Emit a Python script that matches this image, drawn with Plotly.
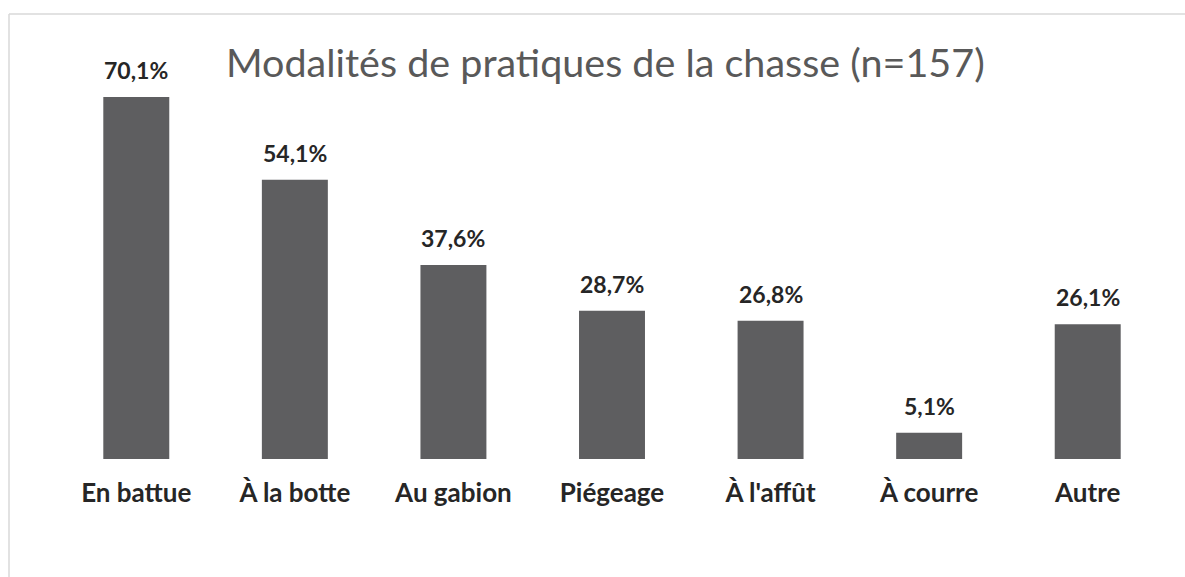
import plotly.graph_objects as go

categories = ["En battue", "À la botte", "Au gabion", "Piégeage", "À l'affût", "À courre", "Autre"]
values = [70.1, 54.1, 37.6, 28.7, 26.8, 5.1, 26.1]
value_labels = ["70,1%", "54,1%", "37,6%", "28,7%", "26,8%", "5,1%", "26,1%"]
title_text = "Modalités de pratiques de la chasse (n=157)"

W, H = 1185, 577
PLOT_X0, PLOT_X1 = 56.75, 1166.25     # plot area in window pixels
PLOT_Y0, PLOT_Y1 = 46, 459
L = round(PLOT_X0)
T = round(PLOT_Y0)
pw = round(PLOT_X1 - PLOT_X0)
ph = round(PLOT_Y1 - PLOT_Y0)
R = W - L - pw
B = H - T - ph

def px_x(px):
    return (px - L) / pw

def px_y(py):
    return (T + ph - py) / ph

fig = go.Figure()
fig.add_trace(go.Bar(
    x=categories, y=values,
    marker=dict(color="#5e5e60", line=dict(width=0)),
    hoverinfo="skip",
))

for c, v, t in zip(categories, values, value_labels):
    fig.add_annotation(x=c, y=v, text=t, showarrow=False, yanchor="bottom", yshift=11,
                       font=dict(family="Lato", size=23, color="#262626", weight="bold"))

fig.add_annotation(x=px_x(605), y=px_y(61), xref="paper", yref="paper", text=title_text,
                   showarrow=False, xanchor="center", yanchor="middle",
                   font=dict(family="Lato", size=39.5, color="#595959"))

# chart area border (top and left visible)
fig.add_shape(type="line", xref="paper", yref="paper", x0=px_x(9), x1=px_x(W + 10), y0=px_y(14), y1=px_y(14),
              line=dict(color="#d9d9d9", width=1.5))
fig.add_shape(type="line", xref="paper", yref="paper", x0=px_x(9), x1=px_x(9), y0=px_y(14), y1=px_y(H + 10),
              line=dict(color="#d9d9d9", width=1.5))

fig.update_layout(
    width=W, height=H,
    margin=dict(l=L, r=R, t=T, b=B),
    paper_bgcolor="white", plot_bgcolor="white",
    bargap=0.584,
    showlegend=False,
    hovermode=False,
    xaxis=dict(showgrid=False, showline=False, zeroline=False, ticks="", ticklabelstandoff=16,
               tickfont=dict(family="Lato", size=26, color="#262626", weight="bold")),
    yaxis=dict(range=[0, 80], visible=False),
)

fig.write_html("out.html",
               config={"displayModeBar": False, "staticPlot": True},
               post_script="document.body.style.margin='0';document.body.style.overflow='hidden';")
